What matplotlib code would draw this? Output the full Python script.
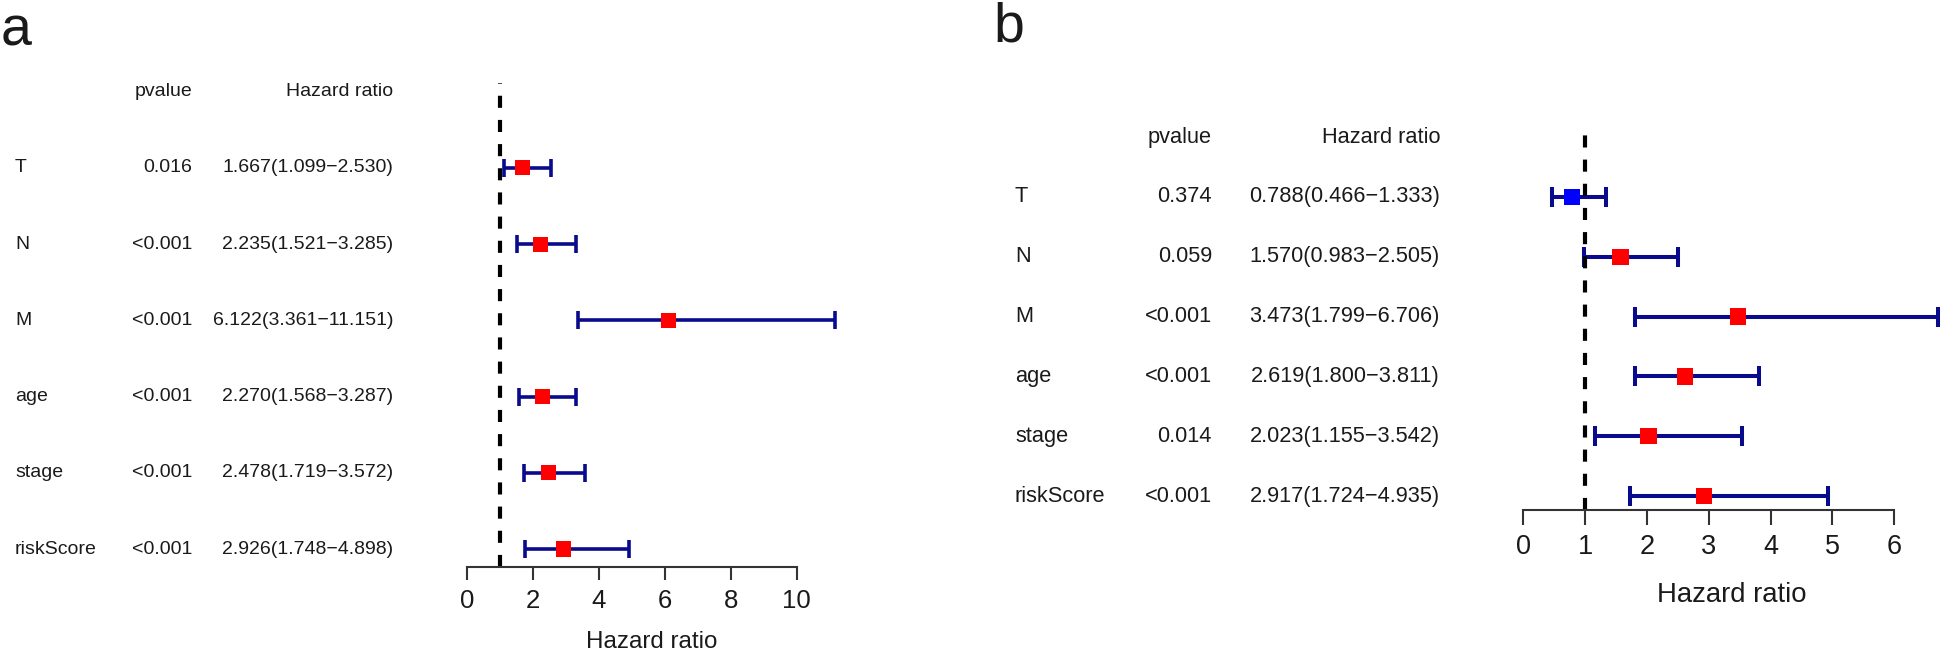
import matplotlib
matplotlib.use("Agg")
import matplotlib.pyplot as plt
import matplotlib.transforms as mtransforms

plt.rcParams["font.family"] = ["Liberation Sans", "DejaVu Sans"]

# ---- data ----
variables = ["T", "N", "M", "age", "stage", "riskScore"]

pvalue_a = ["0.016", "<0.001", "<0.001", "<0.001", "<0.001", "<0.001"]
hr_a = [1.667, 2.235, 6.122, 2.270, 2.478, 2.926]
lower_a = [1.099, 1.521, 3.361, 1.568, 1.719, 1.748]
upper_a = [2.530, 3.285, 11.151, 3.287, 3.572, 4.898]

pvalue_b = ["0.374", "0.059", "<0.001", "<0.001", "0.014", "<0.001"]
hr_b = [0.788, 1.570, 3.473, 2.619, 2.023, 2.917]
lower_b = [0.466, 0.983, 1.799, 1.800, 1.155, 1.724]
upper_b = [1.333, 2.505, 6.706, 3.811, 3.542, 4.935]

W, H = 1943, 654
TXT = "#1a1a1a"

fig = plt.figure(figsize=(W / 100, H / 100), dpi=100)
fig.patch.set_facecolor("white")


def px_axes(left, top, right, bottom):
    return fig.add_axes([left / W, 1 - bottom / H, (right - left) / W, (bottom - top) / H])


def draw_panel(ax, pvals, hr, lo, hi, xmax_tick, xstep, xlim, ylim,
               col_x, txt_size, tick_size, tick_len, tick_pad,
               xlabel_xy, xlabel_size, cap, lw, msize):
    n = len(variables)
    ypos = list(range(n, 0, -1))

    ax.set_xlim(*xlim)
    ax.set_ylim(*ylim)
    ax.patch.set_alpha(0)

    xerr = [[h - l for h, l in zip(hr, lo)], [u - h for h, u in zip(hr, hi)]]
    ax.errorbar(hr, ypos, xerr=xerr, fmt="none", ecolor="#0a0a8c",
                elinewidth=lw, capsize=cap, capthick=lw, zorder=2, clip_on=False)
    ax.axvline(1, color="black", lw=3, linestyle=(0, (2.9, 2.9)), zorder=2.5)
    colors = ["#ff0000" if h > 1 else "#0000ff" for h in hr]
    ax.scatter(hr, ypos, marker="s", s=msize, c=colors, linewidths=0, zorder=3, clip_on=False)

    for side in ["top", "right", "left"]:
        ax.spines[side].set_visible(False)
    ax.spines["bottom"].set_bounds(0, xmax_tick)
    ax.spines["bottom"].set_linewidth(1.5)
    ax.spines["bottom"].set_color("#333333")
    ax.set_yticks([])
    ax.set_xticks(range(0, xmax_tick + 1, xstep))
    ax.tick_params(axis="x", length=tick_len, width=1.5, color="#333333",
                   labelsize=tick_size, labelcolor=TXT, pad=tick_pad)

    # table text, x in figure pixels, y in row units
    trans = mtransforms.blended_transform_factory(fig.transFigure, ax.transData)
    lab_x, p_x, hr_x = col_x
    head_y = n + 1
    ax.text(p_x / W, head_y, "pvalue", transform=trans, ha="right", va="center",
            fontsize=txt_size, color=TXT)
    ax.text(hr_x / W, head_y, "Hazard ratio", transform=trans, ha="right", va="center",
            fontsize=txt_size, color=TXT)
    for i in range(n):
        y = ypos[i]
        ax.text(lab_x / W, y, variables[i], transform=trans, ha="left", va="center",
                fontsize=txt_size, color=TXT)
        ax.text(p_x / W, y, pvals[i], transform=trans, ha="right", va="center",
                fontsize=txt_size, color=TXT)
        label = f"{hr[i]:.3f}({lo[i]:.3f}\u2212{hi[i]:.3f})"
        ax.text(hr_x / W, y, label, transform=trans, ha="right", va="center",
                fontsize=txt_size, color=TXT)

    fig.text(xlabel_xy[0] / W, 1 - xlabel_xy[1] / H, "Hazard ratio",
             ha="center", va="center", fontsize=xlabel_size, color=TXT)


# panel a
ax_a = px_axes(467.3, 83, 467.3 + 11.3 * 32.94, 567.3)
draw_panel(ax_a, pvalue_a, hr_a, lower_a, upper_a, 10, 2, (0, 11.3), (0.76, 7.115),
           (15, 192, 393), 14, 18.5, 9.4, 6.0, (652, 642), 17.4, 6.2, 2.6, 117)

# panel b
ax_b = px_axes(1523.3, 133, 1523.3 + 6.75 * 61.83, 510)
draw_panel(ax_b, pvalue_b, hr_b, lower_b, upper_b, 6, 1, (0, 6.75), (0.766, 7.07),
           (1015, 1212, 1440), 15.7, 19.5, 11.0, 6.0, (1732, 595), 19.8, 7.2, 2.9, 138)

fig.text(1 / W, 1 - 45 / H, "a", ha="left", va="baseline", fontsize=40, color=TXT)
fig.text(993 / W, 1 - 42 / H, "b", ha="left", va="baseline", fontsize=40, color=TXT)

fig.savefig("out.png", dpi=100, facecolor="white")
